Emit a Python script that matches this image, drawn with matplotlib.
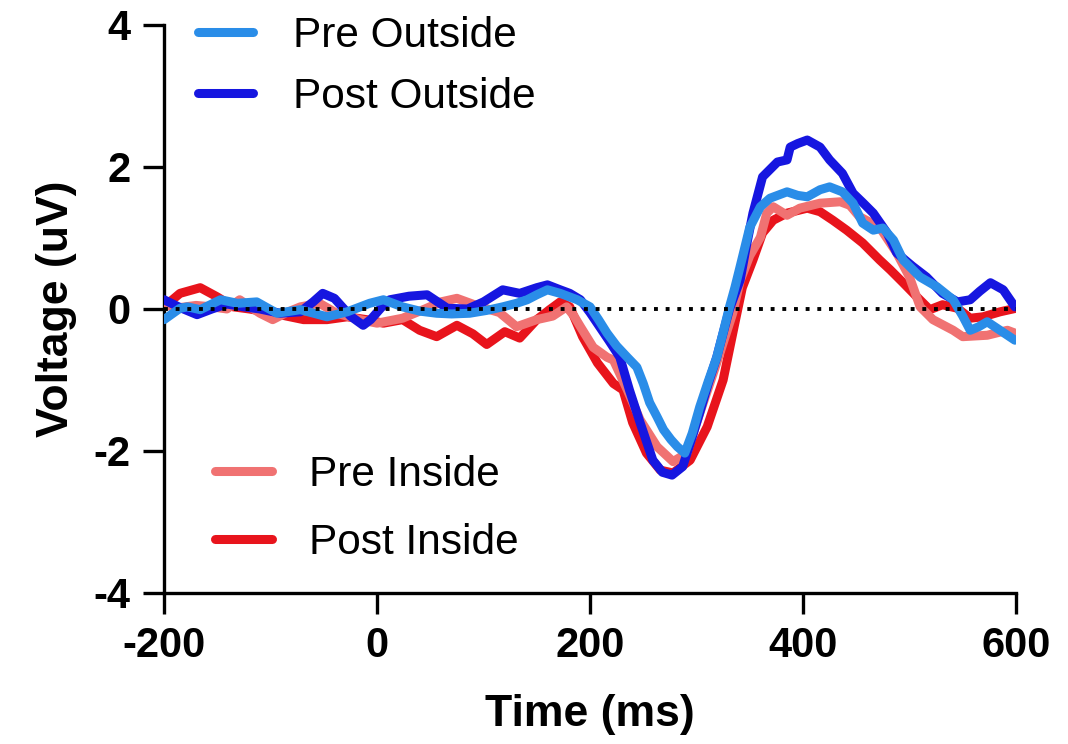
import matplotlib

matplotlib.use('Agg')
import numpy as np
import matplotlib.pyplot as plt
from matplotlib.lines import Line2D

plt.rcParams['font.family'] = ['Liberation Sans', 'DejaVu Sans']
plt.rcParams['axes.unicode_minus'] = False

# values (time in ms, voltage in uV)
t_post_out = [-200, -185, -169, -155, -141, -125, -110, -91, -72, -60, -51, -40, -25, -13, -6, 4, 12, 30, 47,
              66, 85, 100, 118, 134, 150, 160, 172, 181, 191, 200, 209, 218, 228, 237, 247, 259, 268, 277,
              287, 295, 303, 311, 319, 331, 341, 347, 353, 362, 376, 385, 388, 395, 404, 416, 425, 437, 447,
              456, 466, 479, 488, 495, 503, 516, 531, 545, 557, 566, 576, 588, 599]
v_post_out = [0.13, 0.02, -0.08, 0.0, 0.07, 0.03, 0.0, -0.06, -0.04, 0.1, 0.22, 0.15, -0.1, -0.23, -0.15, 0.02,
              0.13, 0.18, 0.2, 0.01, 0.0, 0.1, 0.27, 0.22, 0.3, 0.34, 0.27, 0.22, 0.13, -0.05, -0.25, -0.45,
              -0.68, -1.14, -1.6, -2.13, -2.3, -2.34, -2.22, -1.85, -1.46, -1.05, -0.68, 0.0, 0.41, 0.9, 1.35,
              1.86, 2.07, 2.1, 2.28, 2.33, 2.38, 2.28, 2.1, 1.91, 1.63, 1.5, 1.35, 1.07, 0.79, 0.7, 0.6, 0.45,
              0.22, 0.1, 0.13, 0.25, 0.37, 0.27, 0.03]

t_pre_out = [-200, -185, -178, -166, -147, -131, -113, -94, -72, -47, -28, -7, 6, 24, 40, 56, 70, 87, 103, 118,
             131, 141, 150, 160, 172, 188, 200, 208, 216, 225, 235, 244, 250, 256, 263, 269, 276, 282, 289,
             296, 303, 311, 319, 325, 331, 336, 341, 350, 360, 369, 385, 395, 404, 416, 425, 437, 447, 456,
             466, 475, 485, 494, 510, 526, 541, 550, 557, 565, 573, 585, 599]
v_pre_out = [-0.15, 0.01, 0.03, -0.01, 0.13, 0.08, 0.1, -0.06, -0.01, -0.11, -0.04, 0.08, 0.13, 0.03, -0.03,
             -0.06, -0.07, -0.06, -0.02, 0.03, 0.08, 0.13, 0.2, 0.27, 0.22, 0.13, 0.03, -0.15, -0.34, -0.52,
             -0.68, -0.82, -1.05, -1.32, -1.52, -1.7, -1.84, -1.94, -2.03, -1.75, -1.38, -1.02, -0.68, -0.33,
             0.03, 0.3, 0.6, 1.15, 1.44, 1.56, 1.65, 1.6, 1.58, 1.68, 1.72, 1.65, 1.49, 1.21, 1.11, 1.14, 0.97,
             0.69, 0.45, 0.31, 0.13, -0.1, -0.3, -0.25, -0.18, -0.3, -0.44]

t_pre_in = [-200, -185, -170, -155, -141, -129, -110, -98, -85, -72, -54, -38, -16, 0, 24, 45, 60, 75, 97, 115,
            131, 150, 165, 178, 185, 191, 203, 216, 222, 235, 247, 263, 278, 291, 303, 319, 334, 341, 350, 360,
            366, 372, 385, 397, 416, 435, 444, 453, 472, 488, 500, 510, 522, 541, 550, 573, 592, 599]
v_pre_in = [0.05, 0.02, 0.05, 0.03, 0.0, 0.13, -0.06, -0.15, -0.05, 0.03, 0.08, -0.06, -0.15, -0.2, -0.13, 0.0,
            0.1, 0.15, 0.03, -0.05, -0.25, -0.15, -0.1, 0.03, -0.1, -0.25, -0.54, -0.68, -0.72, -1.14, -1.56,
            -1.94, -2.15, -2.03, -1.47, -0.76, -0.06, 0.4, 0.75, 1.01, 1.35, 1.44, 1.32, 1.42, 1.49, 1.51, 1.46,
            1.3, 1.15, 0.79, 0.45, 0.03, -0.15, -0.3, -0.39, -0.37, -0.3, -0.34]

t_post_in = [-200, -185, -166, -150, -135, -120, -100, -85, -69, -47, -28, -10, 6, 24, 40, 56, 75, 90, 103, 120,
             134, 150, 162, 172, 181, 193, 207, 222, 231, 240, 253, 266, 278, 294, 310, 325, 336, 343, 353, 362,
             372, 385, 404, 416, 428, 441, 456, 472, 482, 494, 507, 519, 531, 545, 557, 569, 585, 600]
v_post_in = [0.03, 0.22, 0.3, 0.17, 0.03, 0.0, -0.05, -0.1, -0.15, -0.15, -0.11, -0.15, -0.2, -0.15, -0.3, -0.39,
             -0.23, -0.35, -0.5, -0.32, -0.41, -0.15, -0.01, 0.1, 0.03, -0.39, -0.76, -1.05, -1.14, -1.6, -2.03,
             -2.27, -2.31, -2.13, -1.66, -1.0, -0.2, 0.3, 0.69, 1.07, 1.25, 1.35, 1.42, 1.37, 1.25, 1.11, 0.93,
             0.69, 0.55, 0.37, 0.17, -0.01, 0.06, 0.01, -0.13, -0.11, -0.04, 0.01]

C_PRE_OUT = '#2a8de8'
C_POST_OUT = '#1616e0'
C_PRE_IN = '#f07272'
C_POST_IN = '#e8141c'
LW = 6.5

fig = plt.figure(figsize=(10.68, 7.44), dpi=100)
ax = fig.add_axes([0.1536, 0.2030, 0.7977, 0.7634])

style = dict(lw=LW, solid_capstyle='round', solid_joinstyle='round')
ax.plot(t_post_in, v_post_in, color=C_POST_IN, zorder=2, **style)
ax.plot(t_pre_in, v_pre_in, color=C_PRE_IN, zorder=3, **style)
ax.plot(t_post_out, v_post_out, color=C_POST_OUT, zorder=4, **style)
ax.plot(t_pre_out, v_pre_out, color=C_PRE_OUT, zorder=5, **style)
ax.plot([-200, 600], [0, 0], color='black', lw=2.8, linestyle=(0, (1, 2)), zorder=6)

ax.set_xlim(-200, 600)
ax.set_ylim(-4, 4)
ax.set_xticks([-200, 0, 200, 400, 600])
ax.set_yticks([-4, -2, 0, 2, 4])
for s in ['top', 'right']:
    ax.spines[s].set_visible(False)
for s in ['left', 'bottom']:
    ax.spines[s].set_linewidth(2.4)
ax.tick_params(length=15, width=2.4, labelsize=30, pad=9)
for lab in ax.get_xticklabels() + ax.get_yticklabels():
    lab.set_fontweight('bold')

ax.set_xlabel('Time (ms)', fontsize=32, fontweight='bold', labelpad=20)
ax.set_ylabel('Voltage (uV)', fontsize=32, fontweight='bold', labelpad=12)

h_out = [Line2D([], [], color=C_PRE_OUT, lw=LW, solid_capstyle='round'),
         Line2D([], [], color=C_POST_OUT, lw=LW, solid_capstyle='round')]
h_in = [Line2D([], [], color=C_PRE_IN, lw=LW, solid_capstyle='round'),
        Line2D([], [], color=C_POST_IN, lw=LW, solid_capstyle='round')]

leg1 = ax.legend(h_out, ['Pre Outside', 'Post Outside'], loc='upper left', bbox_to_anchor=(0.04, 1.016),
                 frameon=False, fontsize=30.5, handlelength=1.3, handletextpad=0.94, labelspacing=0.5,
                 borderpad=0, borderaxespad=0)
ax.add_artist(leg1)
ax.legend(h_in, ['Pre Inside', 'Post Inside'], loc='upper left', bbox_to_anchor=(0.06, 0.243),
          frameon=False, fontsize=30.5, handlelength=1.34, handletextpad=0.87, labelspacing=0.66,
          borderpad=0, borderaxespad=0)

fig.savefig('out.png', dpi=100)
